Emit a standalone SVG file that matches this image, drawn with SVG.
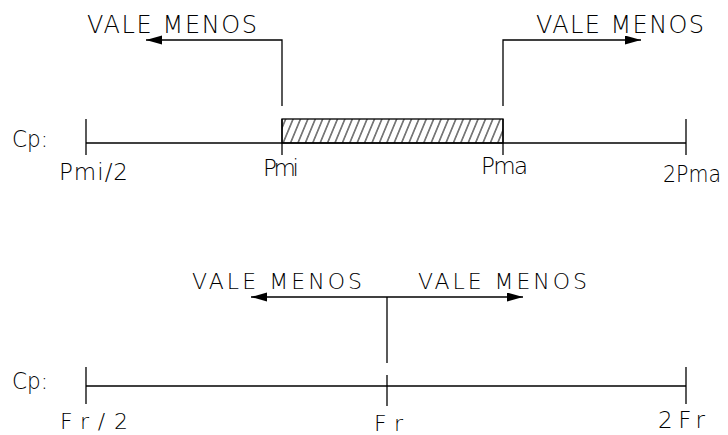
<svg xmlns="http://www.w3.org/2000/svg" width="728" height="435" viewBox="0 0 728 435">
  <style>
    .ln { stroke: #000; stroke-width: 1.3; fill: none; }
    .t { font-family: "DejaVu Sans", "Liberation Sans", sans-serif; font-weight: 200; fill: #000; }
  </style>
  <defs>
    <marker id="arr" markerUnits="userSpaceOnUse" markerWidth="17" markerHeight="10" refX="16" refY="4.5" orient="auto">
      <path d="M0,0 L16,4.5 L0,9 Z" fill="#000"/>
    </marker>
    <pattern id="hatch" patternUnits="userSpaceOnUse" width="7.4" height="24" patternTransform="translate(282,119) skewX(-22.6)">
      <line x1="3.7" y1="-1" x2="3.7" y2="25" stroke="#000" stroke-width="1"/>
    </pattern>
  </defs>
  <rect width="728" height="435" fill="#fff"/>

  <g id="axis-cp">
    <line class="ln" x1="86" y1="143" x2="686" y2="143"/>
    <line class="ln" x1="86" y1="119" x2="86" y2="155"/>
    <line class="ln" x1="282" y1="119" x2="282" y2="155"/>
    <line class="ln" x1="503" y1="119" x2="503" y2="155"/>
    <line class="ln" x1="686" y1="119" x2="686" y2="155"/>
    <text class="t" x="12" y="147" font-size="23" textLength="36" lengthAdjust="spacingAndGlyphs">Cp:</text>
    <text class="t" x="59" y="180" font-size="23" textLength="69" lengthAdjust="spacing">Pmi/2</text>
    <text class="t" x="263" y="176" font-size="23" textLength="36" lengthAdjust="spacing">Pmi</text>
    <text class="t" x="481" y="174" font-size="23" textLength="47" lengthAdjust="spacing">Pma</text>
    <text class="t" x="663" y="182" font-size="23" textLength="58" lengthAdjust="spacingAndGlyphs">2Pma</text>
  </g>

  <g id="range-pmi-pma">
    <rect x="282" y="119" width="221" height="24" fill="url(#hatch)"/>
    <rect class="ln" x="282" y="119" width="221" height="24"/>
  </g>

  <g id="label-top-left">
    <text class="t" x="87" y="33" font-size="24" textLength="170" lengthAdjust="spacing">VALE MENOS</text>
  </g>
  <g id="label-top-right">
    <text class="t" x="536" y="33" font-size="24" textLength="168" lengthAdjust="spacing">VALE MENOS</text>
  </g>

  <g id="axis-fr">
    <line class="ln" x1="86" y1="386" x2="686" y2="386"/>
    <line class="ln" x1="86" y1="367" x2="86" y2="404"/>
    <line class="ln" x1="387" y1="375" x2="387" y2="406"/>
    <line class="ln" x1="686" y1="367" x2="686" y2="404"/>
    <text class="t" x="12" y="389" font-size="23" textLength="36" lengthAdjust="spacingAndGlyphs">Cp:</text>
    <text class="t" x="60" y="429" font-size="22" textLength="68" lengthAdjust="spacing">Fr/2</text>
    <text class="t" x="374" y="431" font-size="22" textLength="29" lengthAdjust="spacing">Fr</text>
    <text class="t" x="658" y="428" font-size="23" textLength="47" lengthAdjust="spacing">2Fr</text>
  </g>

  <g id="label-bottom-left">
    <text class="t" x="192" y="289" font-size="22" textLength="170" lengthAdjust="spacing">VALE MENOS</text>
  </g>
  <g id="label-bottom-right">
    <text class="t" x="418" y="289" font-size="22" textLength="169" lengthAdjust="spacing">VALE MENOS</text>
  </g>

  <g id="connectors">
    <polyline class="ln" points="282,106 282,40 146,40" marker-end="url(#arr)"/>
    <polyline class="ln" points="503,106 503,40 641,40" marker-end="url(#arr)"/>
    <line class="ln" x1="387" y1="363" x2="387" y2="297"/>
    <line class="ln" x1="387" y1="297" x2="251" y2="297" marker-end="url(#arr)"/>
    <line class="ln" x1="387" y1="297" x2="523" y2="297" marker-end="url(#arr)"/>
  </g>
</svg>
